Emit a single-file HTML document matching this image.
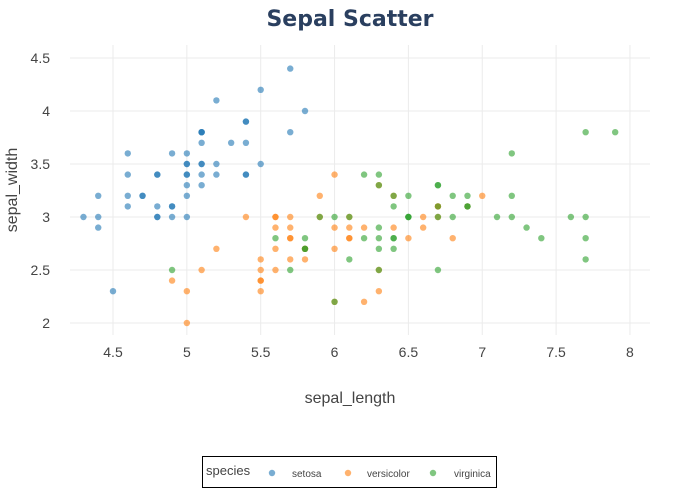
<!DOCTYPE html>
<html><head><meta charset="utf-8"><style>
body{margin:0;background:#fff;}
svg{display:block;font-family:"Liberation Sans",Arial,sans-serif;}
</style></head><body>
<svg id="s" width="700" height="500" xmlns="http://www.w3.org/2000/svg">
<rect width="700" height="500" fill="#fff"/>
<g id="grid" stroke="#ebebeb" stroke-width="1"></g>
<g id="ticks" font-size="14" fill="#444"></g>
<g id="pts"></g>
<text x="350" y="26" text-anchor="middle" font-size="22" font-weight="900" fill="#2a3f5f" font-family="'DejaVu Sans','Liberation Sans',sans-serif">Sepal Scatter</text>
<text x="350" y="403" text-anchor="middle" font-size="16" fill="#444">sepal_length</text>
<text transform="translate(17,190) rotate(-90)" text-anchor="middle" font-size="16" fill="#444">sepal_width</text>
<rect x="202.5" y="456.5" width="294" height="31" fill="#fff" stroke="#000" stroke-width="1"/>
<text x="206" y="475" font-size="13" fill="#444">species</text>
<circle cx="272" cy="473" r="3.2" fill="#1f77b4" opacity="0.6"/>
<text x="292" y="477" font-size="10" fill="#444">setosa</text>
<circle cx="348" cy="473" r="3.2" fill="#ff7f0e" opacity="0.6"/>
<text x="367" y="477" font-size="10" fill="#444">versicolor</text>
<circle cx="433" cy="473" r="3.2" fill="#2ca02c" opacity="0.6"/>
<text x="454" y="477" font-size="10" fill="#444">virginica</text>
</svg>
<script>
var X=function(v){return 113+(v-4.5)*147.7},Y=function(v){return 323-(v-2)*106};
var ns="http://www.w3.org/2000/svg";
function el(t,a,p,txt){var e=document.createElementNS(ns,t);for(var k in a)e.setAttribute(k,a[k]);if(txt)e.textContent=txt;document.getElementById(p).appendChild(e);}
[4.5,5,5.5,6,6.5,7,7.5,8].forEach(function(v){var x=X(v);el("line",{x1:x,x2:x,y1:45,y2:335},"grid");el("text",{x:x,y:357,"text-anchor":"middle"},"ticks",String(v));});
[2,2.5,3,3.5,4,4.5].forEach(function(v){var y=Y(v);el("line",{x1:70,x2:650,y1:y,y2:y},"grid");el("text",{x:50,y:y+5,"text-anchor":"end"},"ticks",String(v));});
var D={"#1f77b4":"5.1,3.5;4.9,3.0;4.7,3.2;4.6,3.1;5.0,3.6;5.4,3.9;4.6,3.4;5.0,3.4;4.4,2.9;4.9,3.1;5.4,3.7;4.8,3.4;4.8,3.0;4.3,3.0;5.8,4.0;5.7,4.4;5.4,3.9;5.1,3.5;5.7,3.8;5.1,3.8;5.4,3.4;5.1,3.7;4.6,3.6;5.1,3.3;4.8,3.4;5.0,3.0;5.0,3.4;5.2,3.5;5.2,3.4;4.7,3.2;4.8,3.1;5.4,3.4;5.2,4.1;5.5,4.2;4.9,3.1;5.0,3.2;5.5,3.5;4.9,3.6;4.4,3.0;5.1,3.4;5.0,3.5;4.5,2.3;4.4,3.2;5.0,3.5;5.1,3.8;4.8,3.0;5.1,3.8;4.6,3.2;5.3,3.7;5.0,3.3",
"#ff7f0e":"7.0,3.2;6.4,3.2;6.9,3.1;5.5,2.3;6.5,2.8;5.7,2.8;6.3,3.3;4.9,2.4;6.6,2.9;5.2,2.7;5.0,2.0;5.9,3.0;6.0,2.2;6.1,2.9;5.6,2.9;6.7,3.1;5.6,3.0;5.8,2.7;6.2,2.2;5.6,2.5;5.9,3.2;6.1,2.8;6.3,2.5;6.1,2.8;6.4,2.9;6.6,3.0;6.8,2.8;6.7,3.0;6.0,2.9;5.7,2.6;5.5,2.4;5.5,2.4;5.8,2.7;6.0,2.7;5.4,3.0;6.0,3.4;6.7,3.1;6.3,2.3;5.6,3.0;5.5,2.5;5.5,2.6;6.1,3.0;5.8,2.6;5.0,2.3;5.6,2.7;5.7,3.0;5.7,2.9;6.2,2.9;5.1,2.5;5.7,2.8",
"#2ca02c":"6.3,3.3;5.8,2.7;7.1,3.0;6.3,2.9;6.5,3.0;7.6,3.0;4.9,2.5;7.3,2.9;6.7,2.5;7.2,3.6;6.5,3.2;6.4,2.7;6.8,3.0;5.7,2.5;5.8,2.8;6.4,3.2;6.5,3.0;7.7,3.8;7.7,2.6;6.0,2.2;6.9,3.2;5.6,2.8;7.7,2.8;6.3,2.7;6.7,3.3;7.2,3.2;6.2,2.8;6.1,3.0;6.4,2.8;7.2,3.0;7.4,2.8;7.9,3.8;6.4,2.8;6.3,2.8;6.1,2.6;7.7,3.0;6.3,3.4;6.4,3.1;6.0,3.0;6.9,3.1;6.7,3.1;6.9,3.1;5.8,2.7;6.8,3.2;6.7,3.3;6.7,3.0;6.3,2.5;6.5,3.0;6.2,3.4;5.9,3.0"};
for(var c in D){D[c].split(";").forEach(function(p){var a=p.split(",");el("circle",{cx:X(+a[0]),cy:Y(+a[1]),r:3.2,fill:c,opacity:0.6},"pts");});}
</script>
</body></html>
